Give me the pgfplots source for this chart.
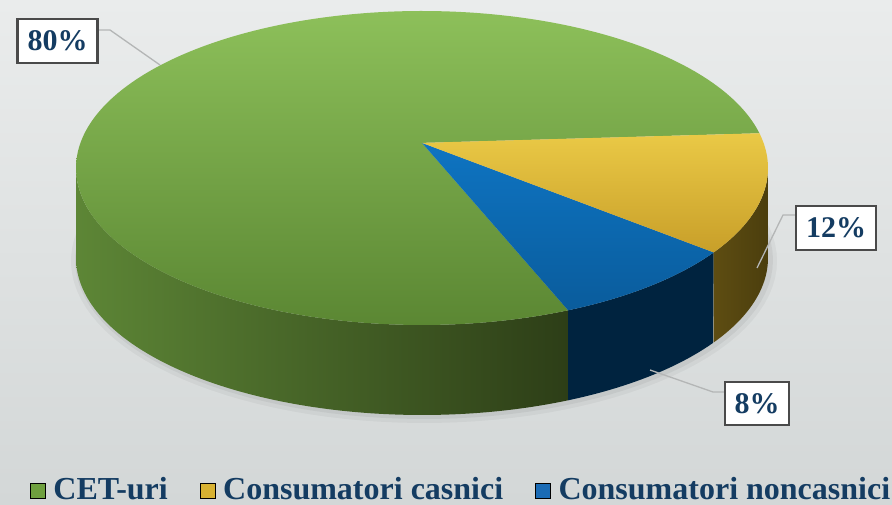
\documentclass[border=0pt]{standalone}
\usepackage{pgfplots}
\pgfplotsset{compat=1.18}
\usepackage{pgfplotstable}
\usepackage{fontspec}
\setmainfont{Liberation Serif}

\definecolor{bgtop}{HTML}{EAECEC}
\definecolor{bgbot}{HTML}{D3D7D7}
\definecolor{gTopA}{HTML}{8DC05A}
\definecolor{gTopB}{HTML}{5B8733}
\definecolor{yTopA}{HTML}{EAC946}
\definecolor{yTopB}{HTML}{C89F29}
\definecolor{bTopA}{HTML}{0E74C2}
\definecolor{bTopB}{HTML}{0A5C9C}
\definecolor{gSideA}{HTML}{5D8636}
\definecolor{gSideM}{HTML}{384D1E}
\definecolor{gSideB}{HTML}{2D3E17}
\definecolor{bSide}{HTML}{00233F}
\definecolor{ySideA}{HTML}{5E4D12}
\definecolor{ySideB}{HTML}{4B3E0D}
\definecolor{labtxt}{HTML}{143C62}
\definecolor{boxborder}{HTML}{4A4A4A}
\definecolor{leader}{HTML}{B4B6B6}
\definecolor{legG}{HTML}{6FA03F}
\definecolor{legY}{HTML}{D8B232}
\definecolor{legB}{HTML}{1A6BB5}

\pgfplotstableread{
name value
CET 80
casnici 12
noncasnici 8
}\piedata
\pgfplotstablegetelem{0}{value}\of\piedata \let\vG\pgfplotsretval
\pgfplotstablegetelem{1}{value}\of\piedata \let\vY\pgfplotsretval
\pgfplotstablegetelem{2}{value}\of\piedata \let\vB\pgfplotsretval
% slice boundary angles (degrees), from the shares
\pgfmathsetmacro\aS{3.6}
\pgfmathsetmacro\aYB{\aS-3.6*\vY}
\pgfmathsetmacro\aBG{\aYB-3.6*\vB}
\pgfmathsetmacro\aGE{\aBG-3.6*\vG}

\begin{document}
\begin{tikzpicture}
\begin{axis}[
  width=892pt, height=505pt, scale only axis,
  xmin=0, xmax=892, ymin=0, ymax=505,
  axis line style={draw=none}, ticks=none,
  axis background/.style={top color=bgtop, bottom color=bgbot},
  declare function={
    SS(\p) = -0.16*sin(\p) + sqrt(0.0256*sin(\p)*sin(\p) + 0.9744);
    EX(\p) = 422 + 346*SS(\p)*cos(\p);
    EY(\p) = 337 + 157*(0.16 + SS(\p)*sin(\p));
    TT(\t,\a,\b) = (\t<=1) ? (\a + min(\t/0.99,1)*(\b-\a)) : (\b + max(\t-1.01,0)/0.99*(\a-\b));
  },
  legend columns=-1,
  legend style={draw=none, fill=none, inner sep=0pt, outer sep=0pt,
    at={(axis cs:30,16)}, anchor=west,
    font=\fontsize{32}{36}\selectfont\bfseries, text=labtxt,
    nodes={inner sep=1pt},
    /tikz/every odd column/.append style={column sep=7pt},
    /tikz/every even column/.append style={column sep=31pt}},
  legend image code/.code={\fill[#1] (0pt,-9pt) rectangle (15pt,6pt);},
]
\addlegendimage{fill=legG}\addlegendentry{CET-uri}
\addlegendimage{fill=legY}\addlegendentry{Consumatori casnici}
\addlegendimage{fill=legB}\addlegendentry{Consumatori noncasnici}

% soft shadow
\addplot[forget plot, draw=none, fill=black, opacity=0.04, domain=0:360, samples=120]
  ({424+353*cos(x)},{244+162*sin(x)});
\addplot[forget plot, draw=none, fill=black, opacity=0.05, domain=0:360, samples=120]
  ({424+349*cos(x)},{245+159*sin(x)});

% side faces (front, visible part)
\addplot[forget plot, draw=none, left color=gSideA, middle color=gSideM, right color=gSideB,
  domain=0:2, samples=201, variable=\t]
  ({EX(TT(\t,-170.91,\aBG))},{EY(TT(\t,-170.91,\aBG))-(\t>1)*90}) -- cycle;
\addplot[forget plot, draw=none, fill=bSide, domain=0:2, samples=121, variable=\t]
  ({EX(TT(\t,\aBG,\aYB))},{EY(TT(\t,\aBG,\aYB))-(\t>1)*90}) -- cycle;
\addplot[forget plot, draw=none, left color=ySideA, right color=ySideB,
  domain=0:2, samples=121, variable=\t]
  ({EX(TT(\t,\aYB,-9.09))},{EY(TT(\t,\aYB,-9.09))-(\t>1)*90}) -- cycle;

% top faces
\addplot[forget plot, draw=none, top color=gTopA, bottom color=gTopB, domain=\aGE:\aBG, samples=240]
  ({EX(x)},{EY(x)}) -- (axis cs:422,362.12) -- cycle;
\addplot[forget plot, draw=none, top color=bTopA, bottom color=bTopB, domain=\aBG:\aYB, samples=40]
  ({EX(x)},{EY(x)}) -- (axis cs:422,362.12) -- cycle;
\addplot[forget plot, draw=none, top color=yTopA, bottom color=yTopB, domain=\aYB:\aS, samples=50]
  ({EX(x)},{EY(x)}) -- (axis cs:422,362.12) -- cycle;

% leader lines
\draw[leader, line width=1.3pt] (axis cs:98,475) -- (axis cs:110,475) -- (axis cs:160,440);
\draw[leader, line width=1.3pt] (axis cs:795,290) -- (axis cs:783,290) -- (axis cs:757,237);
\draw[leader, line width=1.3pt] (axis cs:650,135) -- (axis cs:713,113) -- (axis cs:725,113);

% data labels
\node[draw=boxborder, line width=2.3pt, fill=white, text=labtxt, inner sep=0pt,
  minimum width=80pt, minimum height=44pt, font=\fontsize{30}{30}\selectfont\bfseries]
  at (axis cs:57.5,464) {\vG\%};
\node[draw=boxborder, line width=2.3pt, fill=white, text=labtxt, inner sep=0pt,
  minimum width=80pt, minimum height=44pt, font=\fontsize{30}{30}\selectfont\bfseries]
  at (axis cs:836,277) {\vY\%};
\node[draw=boxborder, line width=2.3pt, fill=white, text=labtxt, inner sep=0pt,
  minimum width=64pt, minimum height=43pt, font=\fontsize{30}{30}\selectfont\bfseries]
  at (axis cs:757,101.5) {\vB\%};
\end{axis}
\end{tikzpicture}
\end{document}
